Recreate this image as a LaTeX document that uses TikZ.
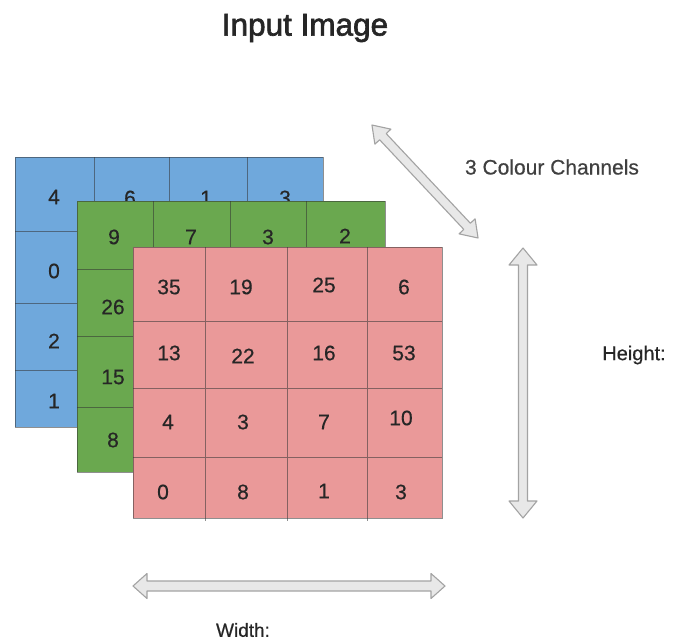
\documentclass[tikz,border=0pt]{standalone}
\usepackage{fontspec}
\setmainfont{Liberation Sans}
\newfontfamily\titlefont{Liberation Sans}[FakeBold=2]
\newfontfamily\medfont{Liberation Sans}[FakeBold=0.5]
\definecolor{chblue}{HTML}{6FA8DC}
\definecolor{chgreen}{HTML}{6AA84F}
\definecolor{chpink}{HTML}{EA9999}
\definecolor{arrfill}{HTML}{E8E8E8}
\definecolor{arrline}{HTML}{A3A3A3}
\definecolor{txt}{HTML}{262626}
\newcommand{\dblblock}[6]{%
\begin{scope}[shift={#1},rotate=#2]
\draw[arrowbox] (-#3,0) -- ({-#3+#6},#5) -- ({-#3+#6},#4) -- ({#3-#6},#4) -- ({#3-#6},#5) -- (#3,0) -- ({#3-#6},-#5) -- ({#3-#6},-#4) -- ({-#3+#6},-#4) -- ({-#3+#6},-#5) -- cycle;
\end{scope}}
\begin{document}
\begin{tikzpicture}[x=1pt,y=-1pt,
  cellline/.style={draw=black!80, draw opacity=0.55, line width=1pt},
  num/.style={font=\medfont\fontsize{21}{21}\selectfont, text=txt, inner sep=0pt},
  lbl/.style={font=\medfont\fontsize{20}{20}\selectfont, text=txt, inner sep=0pt},
  arrowbox/.style={draw=arrline, fill=arrfill, line width=1.1pt, line join=round}]
\useasboundingbox[fill=white] (0,0) rectangle (675,641);

% title
\node[font=\titlefont\fontsize{31.5}{31.5}\selectfont, text=txt, inner sep=0pt] (title) at (305,28) {Input Image};

% blue channel
\fill[chblue] (15,157) rectangle (323,427);
\draw[cellline] (15,157) rectangle (323,427);
\draw[cellline] (94,157)--(94,427) (169,157)--(169,427) (247,157)--(247,427)
  (15,231)--(323,231) (15,303)--(323,303) (15,370)--(323,370);
\node[num] (b11) at (54,197) {4};
\node[num] (b12) at (130,198) {6};
\node[num] (b13) at (206,198) {1};
\node[num] (b14) at (285,198) {3};
\node[num] (b21) at (54,271) {0};
\node[num] (b31) at (54,341) {2};
\node[num] (b41) at (54,401) {1};

% green channel
\fill[chgreen] (77,201) rectangle (385,472);
\draw[cellline] (77,201) rectangle (385,472);
\draw[cellline] (153,201)--(153,472) (230,201)--(230,472) (306,201)--(306,472)
  (77,269)--(385,269) (77,336)--(385,336) (77,407)--(385,407);
\node[num] (g11) at (114,237) {9};
\node[num] (g12) at (191,237) {7};
\node[num] (g13) at (268,237) {3};
\node[num] (g14) at (345,236) {2};
\node[num] (g21) at (113,307) {26};
\node[num] (g31) at (113,377) {15};
\node[num] (g41) at (113,440) {8};

% red channel
\fill[chpink] (133,247) rectangle (442,518);
\draw[cellline] (133,247) rectangle (442,518);
\draw[cellline] (205,247)--(205,521) (287,247)--(287,521) (367,247)--(367,521)
  (133,321)--(442,321) (133,388)--(442,388) (133,457)--(442,457);
\node[num] (r11) at (169,287) {35};
\node[num] (r12) at (241,287) {19};
\node[num] (r13) at (324,285) {25};
\node[num] (r14) at (404,287) {6};
\node[num] (r21) at (169,353) {13};
\node[num] (r22) at (243,356) {22};
\node[num] (r23) at (324,353) {16};
\node[num] (r24) at (404,353) {53};
\node[num] (r31) at (168,422) {4};
\node[num] (r32) at (243,422) {3};
\node[num] (r33) at (324,422) {7};
\node[num] (r34) at (401,418) {10};
\node[num] (r41) at (163,492) {0};
\node[num] (r42) at (243,492) {8};
\node[num] (r43) at (324,491) {1};
\node[num] (r44) at (401,492) {3};

% dimension arrows
\dblblock{(425,181.5)}{-46.8}{77.5}{4.5}{11}{16}
\dblblock{(523,383)}{90}{135}{4.5}{14}{17}
\dblblock{(289,586)}{0}{156}{5}{12.5}{14}

% labels
\node[lbl, font=\medfont\fontsize{21}{21}\selectfont, text=black!75] (chan) at (552,167) {3 Colour Channels};
\node[lbl] (height) at (634,355) {Height:};
\node[lbl, font=\medfont\fontsize{19}{19}\selectfont] (width) at (243,630) {Width:};
\end{tikzpicture}
\end{document}
